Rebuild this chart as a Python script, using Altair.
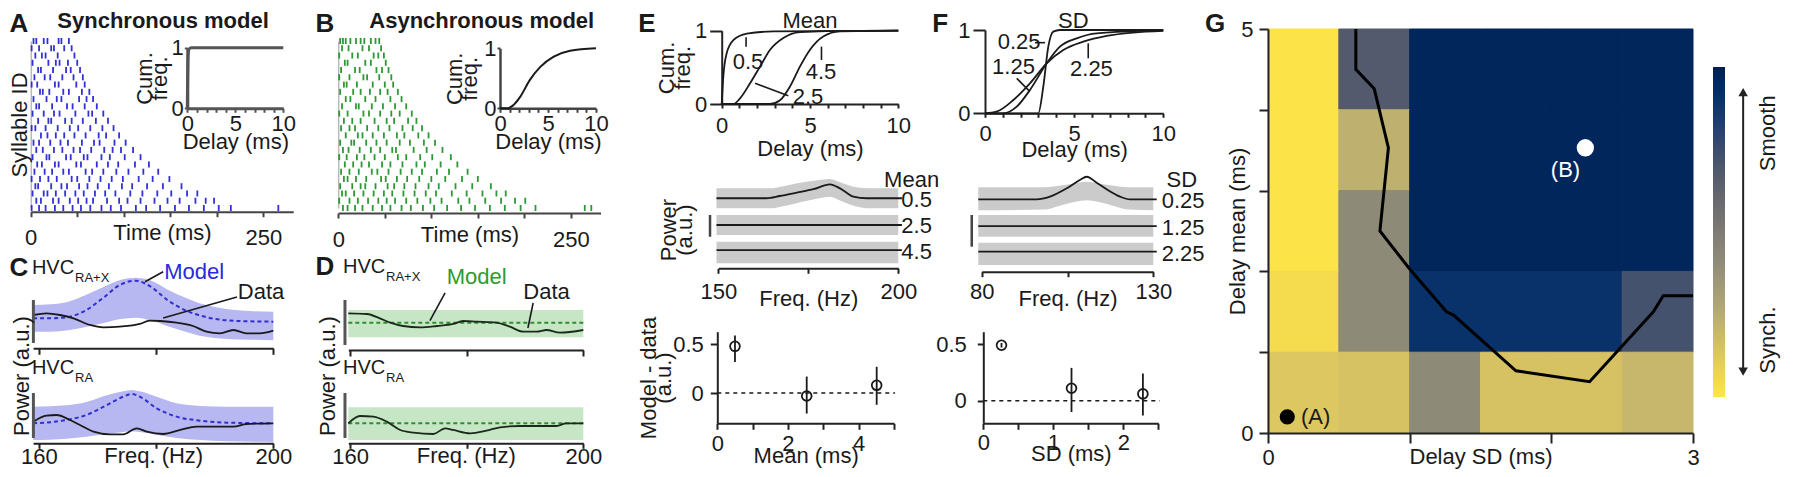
import altair as alt
import pandas as pd

FONT = "Liberation Sans"
W, H = 1784, 461
INK = "#1a1a1a"
BLUE = "#2626d6"
GREEN = "#22922a"

# ---------------- data ----------------
# Panel A / B rasters: spike times (ms) per syllable row (top row first)
SYNC_SPIKES = [
    [3, 6, 14, 18, 30, 33, 41],
    [1, 9, 22, 25, 36, 44],
    [5, 12, 16, 29, 47],
    [2, 19, 27, 31, 40, 50],
    [8, 11, 24, 38, 43, 53],
    [4, 15, 21, 34, 46, 56],
    [1, 7, 26, 30, 49, 58],
    [10, 13, 20, 35, 41, 55, 63],
    [3, 17, 28, 33, 52, 60, 67],
    [6, 9, 23, 39, 45, 58, 71],
    [2, 14, 25, 31, 48, 62, 66, 78],
    [8, 19, 22, 37, 44, 56, 70, 83],
    [1, 5, 16, 29, 42, 51, 64, 77, 89],
    [11, 18, 27, 36, 47, 59, 73, 81, 95],
    [3, 9, 21, 32, 40, 55, 68, 74, 90, 102],
    [6, 13, 25, 34, 46, 53, 65, 79, 88, 97, 110],
    [2, 17, 20, 38, 43, 57, 61, 76, 85, 101, 118],
    [7, 12, 26, 30, 49, 54, 71, 83, 94, 112, 127],
    [4, 15, 23, 35, 41, 59, 66, 78, 92, 105, 121, 137],
    [1, 10, 19, 28, 44, 50, 63, 75, 87, 99, 116, 131, 149],
    [5, 8, 22, 33, 39, 52, 61, 72, 84, 98, 109, 125, 142, 162],
    [2, 14, 18, 27, 37, 48, 57, 69, 80, 91, 107, 120, 136, 151, 168, 179],
    [6, 11, 24, 30, 42, 51, 60, 67, 82, 95, 104, 118, 133, 147, 160, 177, 188, 197],
    [1, 9, 16, 26, 35, 45, 54, 64, 76, 86, 97, 113, 124, 139, 155, 170, 186, 202, 215, 266],
]
ASYNC_SPIKES = [
    [2, 5, 8, 13, 19, 24, 28, 35, 40, 44],
    [4, 11, 26, 33, 46],
    [1, 15, 21, 38, 43, 49],
    [7, 10, 29, 35, 51],
    [3, 18, 23, 41, 47, 54],
    [1, 12, 27, 31, 44, 57],
    [6, 9, 20, 37, 50, 59],
    [2, 16, 24, 34, 45, 53, 64],
    [8, 13, 29, 40, 56, 68],
    [4, 19, 22, 36, 48, 61, 73],
    [1, 10, 27, 33, 45, 57, 66, 79],
    [6, 15, 24, 39, 52, 60, 75, 84],
    [3, 12, 18, 31, 43, 55, 69, 80, 90],
    [8, 21, 26, 37, 49, 63, 71, 86, 97],
    [2, 14, 17, 30, 41, 52, 66, 77, 92, 104],
    [5, 11, 23, 35, 45, 58, 62, 81, 95, 112],
    [1, 9, 20, 28, 39, 50, 64, 73, 88, 101, 121],
    [7, 16, 25, 33, 47, 56, 69, 84, 93, 110, 128],
    [3, 12, 22, 36, 42, 54, 67, 79, 90, 106, 119, 139],
    [6, 10, 19, 30, 46, 51, 63, 74, 87, 100, 115, 133, 150],
    [2, 15, 24, 29, 40, 53, 60, 71, 83, 97, 108, 126, 144, 164],
    [4, 8, 17, 27, 38, 49, 58, 70, 82, 94, 105, 122, 138, 155, 170, 180],
    [1, 12, 21, 32, 43, 52, 61, 73, 85, 99, 111, 129, 141, 158, 175, 190, 201],
    [5, 10, 18, 26, 37, 47, 56, 68, 78, 91, 103, 117, 132, 147, 163, 179, 196, 212, 265, 272],
]
SYNC_CDF_DELAY = [0, 0.03, 0.07, 0.12, 0.2, 0.4, 10]
SYNC_CDF_FRAC = [0, 0.45, 0.8, 0.93, 0.98, 1.0, 1.0]
ASYNC_CDF_DELAY = [0, 0.8, 1.3, 2.1, 3.1, 4.2, 5.6, 7.3, 10]
ASYNC_CDF_FRAC = [0, 0, 0.04, 0.19, 0.47, 0.69, 0.86, 0.96, 1.0]

# Panel C (synchronous model vs data)
C_FREQ_M = [159, 162, 165, 168, 171, 174, 176.5, 179, 182, 185, 188, 192, 196, 200]
C_TOP_MODEL = [0.45, 0.45, 0.47, 0.57, 0.76, 0.96, 1.015, 0.93, 0.72, 0.57, 0.48, 0.42, 0.405, 0.40]
C_TOP_HI = [0.65, 0.66, 0.70, 0.80, 0.92, 1.03, 1.06, 1.02, 0.88, 0.76, 0.66, 0.59, 0.56, 0.55]
C_TOP_LO = [0.25, 0.25, 0.27, 0.32, 0.38, 0.44, 0.46, 0.42, 0.33, 0.25, 0.18, 0.14, 0.13, 0.12]
C_TOP_FREQ_D = [159.03, 161.3, 163.6, 165.9, 168.7, 171.0, 173.8, 177.2, 178.9, 180.7, 183.5, 186.3,
                188.6, 190.9, 193.2, 195.4, 197.7, 200]
C_TOP_DATA = [0.5, 0.525, 0.5, 0.45, 0.35, 0.315, 0.325, 0.365, 0.415, 0.41, 0.385, 0.335,
              0.25, 0.225, 0.275, 0.225, 0.225, 0.265]
C_BOT_FREQ_M = [159, 164.7, 168.1, 171.6, 174.4, 175.8, 177.2, 180.1, 183.5, 187.5, 192, 200]
C_BOT_MODEL = [0.30, 0.35, 0.425, 0.575, 0.70, 0.74, 0.70, 0.525, 0.40, 0.34, 0.31, 0.30]
C_BOT_HI = [0.55, 0.57, 0.62, 0.72, 0.78, 0.80, 0.78, 0.70, 0.60, 0.56, 0.55, 0.55]
C_BOT_LO = [0.05, 0.07, 0.10, 0.14, 0.17, 0.18, 0.17, 0.13, 0.08, 0.05, 0.03, 0.02]
C_BOT_FREQ_D = [159.03, 161.3, 163.0, 165.3, 167.0, 169.3, 172.1, 174.4, 176.7, 178.4, 181.2, 184.1,
                186.9, 189.8, 193.2, 195.4, 200]
C_BOT_DATA = [0.325, 0.415, 0.425, 0.35, 0.275, 0.175, 0.135, 0.135, 0.225, 0.175, 0.14, 0.2,
              0.25, 0.25, 0.25, 0.29, 0.3]

# Panel D (asynchronous model vs data)
D_FREQ_M = [159.7, 200]
D_TOP_MODEL = [0.41, 0.41]
D_TOP_HI = [0.60, 0.60]
D_TOP_LO = [0.19, 0.19]
D_BOT_MODEL = [0.30, 0.30]
D_BOT_HI = [0.54, 0.54]
D_BOT_LO = [0.05, 0.05]
D_TOP_FREQ_D = [159.7, 162.9, 165.1, 166.9, 169.1, 172.0, 174.9, 177.7, 179.4, 181.7, 185.1, 187.4,
                189.7, 192.0, 193.7, 196.0, 200]
D_TOP_DATA = [0.55, 0.54, 0.475, 0.41, 0.36, 0.34, 0.36, 0.39, 0.435, 0.425, 0.41, 0.35,
              0.275, 0.275, 0.30, 0.26, 0.30]
D_BOT_FREQ_D = [159.7, 161.7, 164.0, 166.3, 168.6, 170.9, 174.3, 176.3, 177.7, 180.6, 183.4, 185.7,
                189.1, 192.6, 195.4, 197.1, 200]
D_BOT_DATA = [0.3, 0.41, 0.40, 0.325, 0.2, 0.16, 0.14, 0.225, 0.2, 0.15, 0.19, 0.24,
              0.26, 0.26, 0.26, 0.3, 0.3]

# Panel E: delay distributions with different means
E_CDF = {
    "0.5": ([0, 0.09, 0.28, 0.66, 1.42, 2.92, 10], [0, 0.37, 0.69, 0.87, 0.96, 0.99, 1.0]),
    "2.5": ([0, 0.66, 1.04, 1.6, 2.17, 2.74, 3.49, 4.43, 5.94, 10],
            [0, 0, 0.077, 0.28, 0.51, 0.74, 0.9, 0.98, 0.995, 1.0]),
    "4.5": ([0, 2.74, 3.3, 3.87, 4.43, 5.0, 5.75, 6.7, 10],
            [0, 0, 0.05, 0.24, 0.51, 0.74, 0.92, 0.99, 1.0]),
}
E_PW_FREQ = [149.5, 163.4, 167.1, 171.8, 176.4, 181.0, 183.8, 187.5, 191.2, 201]
E_PW_TOP = [7.67, 7.67, 7.92, 8.29, 8.66, 9.2, 8.76, 7.85, 7.67, 7.67]
E_BAND_FREQ = [149.5, 164, 168, 172, 176, 180, 181, 184, 188, 192, 200]
E_BAND_HI = [8.76, 8.76, 9.0, 9.31, 9.55, 9.75, 9.78, 9.4, 8.9, 8.76, 8.76]
E_BAND_LO = [6.57, 6.57, 6.8, 7.15, 7.5, 7.8, 7.85, 7.4, 6.8, 6.57, 6.57]
E_PW_MID = [4.74, 4.74]
E_PW_MID_BAND = [3.65, 5.84]
E_PW_LOW = [2.0, 2.0]
E_PW_LOW_BAND = [0.55, 2.91]
E_DIFF_MEAN = [0.5, 2.53, 4.51]
E_DIFF = [0.48, -0.03, 0.08]
E_DIFF_LO = [0.32, -0.21, -0.12]
E_DIFF_HI = [0.59, 0.17, 0.27]

# Panel F: delay distributions with different SDs
F_CDF = {
    "0.25": ([0, 2.99, 3.27, 3.55, 3.83, 4.2, 10], [0, 0, 0.32, 0.8, 0.98, 1.0, 1.0]),
    "1.25": ([0, 1.03, 1.78, 2.52, 3.46, 4.2, 5.14, 6.26, 10],
             [0, 0, 0.08, 0.28, 0.6, 0.8, 0.9, 0.96, 0.995]),
    "2.25": ([0, 0.65, 1.59, 2.52, 3.46, 4.39, 5.51, 6.82, 8.32, 10],
             [0, 0.02, 0.16, 0.36, 0.6, 0.76, 0.86, 0.93, 0.97, 0.99]),
}
F_PW_FREQ = [79.0, 96.0, 99.9, 104.8, 108.6, 110.6, 113.5, 116.4, 120.3, 123.2, 131]
F_PW_TOP = [7.55, 7.55, 7.85, 8.76, 9.67, 10.03, 9.38, 8.65, 7.85, 7.55, 7.55]
F_BAND_FREQ = [79, 98, 104, 110.6, 117, 123, 130]
F_BAND_HI = [8.87, 8.87, 9.12, 9.49, 9.12, 8.87, 8.87]
F_BAND_LO = [6.36, 6.43, 7.0, 7.45, 7.0, 6.43, 6.36]
F_PW_MID = [4.63, 4.63]
F_PW_MID_BAND = [3.46, 5.84]
F_PW_LOW = [1.82, 1.82]
F_PW_LOW_BAND = [0.36, 2.80]
F_DIFF_SD = [0.26, 1.26, 2.28]
F_DIFF = [0.49, 0.11, 0.06]
F_DIFF_LO = [0.47, -0.10, -0.13]
F_DIFF_HI = [0.51, 0.29, 0.24]

# Panel G: smoothness grid (rows: mean 4-5 down to 0-1; columns: SD 0-0.5 ... 2.5-3)
G_SD_EDGES = [0, 0.5, 1.0, 1.5, 2.0, 2.5, 3.0]
G_MEAN_EDGES = [5, 4, 3, 2, 1, 0]
G_SMOOTH = [
    [0.01, 0.67, 0.97, 0.97, 0.97, 0.97],
    [0.01, 0.23, 0.97, 0.97, 0.97, 0.97],
    [0.01, 0.42, 0.97, 0.97, 0.97, 0.97],
    [0.04, 0.42, 0.90, 0.90, 0.90, 0.72],
    [0.13, 0.15, 0.42, 0.15, 0.15, 0.20],
]
G_BOUND_SD = [0.62, 0.62, 0.75, 0.85, 0.79, 1.0, 1.26, 1.31, 1.75, 2.27, 2.72, 2.79, 3.0]
G_BOUND_MEAN = [5.0, 4.5, 4.26, 3.53, 2.5, 2.03, 1.5, 1.46, 0.77, 0.635, 1.5, 1.70, 1.70]
G_MODEL_A = (0.136, 0.2)
G_MODEL_B = (2.24, 3.53)


# ---------------- helpers ----------------
def sx(dom, a, b):
    return alt.Scale(domain=dom, range=[a - 8, b - 8], nice=False, zero=False)


def sy(dom, a, b):
    return alt.Scale(domain=dom, range=[a - 8, b - 8], nice=False, zero=False)


def _labels(kw, shown, lp):
    if shown:
        cond = " || ".join("datum.value == %s" % v for v in shown)
        kw["labelExpr"] = "(%s) ? ('' + datum.value) : ''" % cond
        kw["labelPadding"] = lp
    else:
        kw["labels"] = False


def bottom_axis(py, values, shown=(), title=None, t=5, lp=2, tp=0, **kw):
    _labels(kw, shown, lp)
    kw["title"] = title
    if title is not None:
        kw["titlePadding"] = tp
    return alt.Axis(orient="bottom", offset=py - 8 - H, values=list(values), tickSize=t, **kw)


def left_axis(px, values, shown=(), title=None, t=5, lp=2, tp=0, **kw):
    _labels(kw, shown, lp)
    kw["title"] = title
    if title is not None:
        kw["titlePadding"] = tp
    return alt.Axis(orient="left", offset=-(px - 8), values=list(values), tickSize=t, **kw)


class Panel:
    def __init__(self, xs, ys, xa=None, ya=None):
        self.xs, self.ys, self.xa, self.ya = xs, ys, xa, ya
        self.layers = []

    def X(self, f):
        return alt.X("%s:Q" % f, scale=self.xs, axis=self.xa)

    def Y(self, f):
        return alt.Y("%s:Q" % f, scale=self.ys, axis=self.ya)

    def line(self, xv, yv, color=INK, width=1.8, dash=None, interp="monotone"):
        df = pd.DataFrame({"x": list(xv), "y": list(yv), "i": list(range(len(xv)))})
        mk = dict(color=color, strokeWidth=width, interpolate=interp)
        if dash:
            mk["strokeDash"] = dash
        self.layers.append(alt.Chart(df).mark_line(**mk).encode(
            x=self.X("x"), y=self.Y("y"), order="i:Q"))

    def band(self, xv, lo, hi, color):
        df = pd.DataFrame({"x": list(xv), "lo": list(lo), "hi": list(hi)})
        self.layers.append(alt.Chart(df).mark_area(color=color, opacity=1, interpolate="monotone").encode(
            x=self.X("x"), y=self.Y("lo"), y2=alt.Y2("hi")))

    def segs(self, rows, color=INK, width=1.6, dash=None):
        df = pd.DataFrame(rows, columns=["x", "y", "x2", "y2"])
        mk = dict(color=color, strokeWidth=width)
        if dash:
            mk["strokeDash"] = dash
        self.layers.append(alt.Chart(df).mark_rule(**mk).encode(
            x=self.X("x"), y=self.Y("y"), x2=alt.X2("x2"), y2=alt.Y2("y2")))

    def text(self, rows, size=22, color=INK, weight="normal", align="center", angle=0, lh=None):
        df = pd.DataFrame(rows, columns=["x", "y", "t"])
        mk = dict(font=FONT, fontSize=size, color=color, fontWeight=weight, align=align, baseline="middle")
        if angle:
            mk["angle"] = angle
        if lh:
            mk["lineHeight"] = lh
            mk["lineBreak"] = "\n"
        self.layers.append(alt.Chart(df).mark_text(**mk).encode(
            x=self.X("x"), y=self.Y("y"), text="t:N"))

    def errpoints(self, xv, yv, lo, hi):
        df = pd.DataFrame({"x": xv, "y": yv, "lo": lo, "hi": hi})
        self.layers.append(alt.Chart(df).mark_rule(color=INK, strokeWidth=1.8).encode(
            x=self.X("x"), y=self.Y("lo"), y2=alt.Y2("hi")))
        self.layers.append(alt.Chart(df).mark_point(shape="circle", filled=False, size=95,
                                                    strokeWidth=1.8, color=INK, opacity=1).encode(
            x=self.X("x"), y=self.Y("y")))

    def raster(self, spikes, color):
        df = pd.DataFrame([(t, r) for r, ts in enumerate(spikes) for t in ts], columns=["x", "y"])
        self.layers.append(alt.Chart(df).mark_tick(orient="vertical", size=6, thickness=1.8,
                                                   color=color, opacity=0.95).encode(
            x=self.X("x"), y=self.Y("y")))

    def chart(self):
        return alt.layer(*self.layers)


panels = []

# ---------------- Panel A ----------------
pa = Panel(sx([0, 282], 30.7, 293.2), sy([0, 23], 41, 208),
           xa=bottom_axis(211.7, [0, 50, 100, 150, 200, 250], shown=(0, 250), title="Time (ms)",
                          t=5, lp=11, tp=-26, domainColor="#444", tickColor="#444"),
           ya=alt.Axis(orient="left", offset=-(30.7 - 8), ticks=False, labels=False,
                       domainColor="#9a9a9a", domainWidth=1, title="Syllable ID", titlePadding=-0.5))
pa.raster(SYNC_SPIKES, BLUE)
pa.text([(-12.6, -2.34, "A")], size=26, weight="bold")
pa.text([(142.2, -2.75, "Synchronous model")], size=22, weight="bold")
panels.append(pa)

ia = Panel(sx([0, 10], 187.3, 283.3), sy([0, 1], 108.3, 47.7),
           xa=bottom_axis(108.3, range(11), shown=(0, 5, 10), title="Delay (ms)", t=4, lp=1, tp=-3,
                          domainColor="#555", tickColor="#555", domainWidth=3),
           ya=left_axis(187.3, [0, 1], shown=(0, 1), title=["Cum.", "freq."], t=3, lp=1, tp=0,
                        titleLineHeight=15, domainColor="#555", tickColor="#555", domainWidth=3))
ia.line(SYNC_CDF_DELAY, SYNC_CDF_FRAC, color="#555", width=3)
panels.append(ia)

# ---------------- Panel B ----------------
pb = Panel(sx([0, 282], 338.3, 600.6), sy([0, 23], 41, 208),
           xa=bottom_axis(213, [0, 50, 100, 150, 200, 250], shown=(0, 250), title="Time (ms)",
                          t=5, lp=11, tp=-26, domainColor="#444", tickColor="#444"),
           ya=alt.Axis(orient="left", offset=-(338.3 - 8), ticks=False, labels=False,
                       domainColor="#9a9a9a", domainWidth=1, title=None))
pb.raster(ASYNC_SPIKES, GREEN)
pb.text([(-14.3, -2.34, "B")], size=26, weight="bold")
pb.text([(154.2, -2.75, "Asynchronous model")], size=22, weight="bold")
panels.append(pb)

ib = Panel(sx([0, 10], 500, 596), sy([0, 1], 108.3, 48.3),
           xa=bottom_axis(108.3, range(11), shown=(0, 5, 10), title="Delay (ms)", t=4, lp=1, tp=-3,
                          domainColor="#444", tickColor="#444", domainWidth=2.5),
           ya=left_axis(500, [0, 1], shown=(0, 1), title=["Cum.", "freq."], t=3, lp=1, tp=2,
                        titleLineHeight=15, domainColor="#444", tickColor="#444", domainWidth=2.5))
ib.line(ASYNC_CDF_DELAY, ASYNC_CDF_FRAC, color=INK, width=2)
panels.append(ib)

# ---------------- Panel C ----------------
BLUE_BAND = "#b7b7f1"
ct = Panel(sx([159, 200], 33.1, 273.3), sy([0, 1], 348.3, 281.7),
           xa=bottom_axis(348.3, [160, 180, 200], t=6))
ct.band(C_FREQ_M, C_TOP_LO, C_TOP_HI, BLUE_BAND)
ct.line(C_FREQ_M, C_TOP_MODEL, color="#3030d0", width=2, dash=[4, 3])
ct.line(C_TOP_FREQ_D, C_TOP_DATA, color=INK, width=1.8)
ct.segs([(159.05, 0.08, 159.05, 0.725)], color="#555", width=3)
ct.segs([(178.1, 1.0, 181.2, 1.15), (181.2, 0.455, 193.8, 0.77)], width=1.6)
ct.text([(156.59, 1.206, "C")], size=26, weight="bold")
ct.text([(158.8, 1.206, "HVC")], size=20, align="left")
ct.text([(166.15, 1.056, "RA+X")], size=13, align="left")
ct.text([(186.5, 1.146, "Model")], size=22, color="#2a2ad8")
ct.text([(197.9, 0.845, "Data")], size=22)
panels.append(ct)

cb = Panel(sx([159, 200], 33.1, 273.3), sy([0, 1], 443.3, 376.7),
           xa=bottom_axis(443.3, [160, 180, 200], shown=(160, 200), title="Freq. (Hz)",
                          t=5, lp=-1.5, tp=-22))
cb.band(C_BOT_FREQ_M, C_BOT_LO, C_BOT_HI, BLUE_BAND)
cb.line(C_BOT_FREQ_M, C_BOT_MODEL, color="#3030d0", width=2, dash=[4, 3])
cb.line(C_BOT_FREQ_D, C_BOT_DATA, color=INK, width=1.8)
cb.segs([(159.05, 0.08, 159.05, 0.755)], color="#555", width=3)
cb.text([(158.8, 1.13, "HVC")], size=20, align="left")
cb.text([(166.15, 0.98, "RA")], size=13, align="left")
cb.text([(157.1, 1.01, "Power (a.u.)")], size=22, angle=270)
panels.append(cb)

# ---------------- Panel D ----------------
GREEN_BAND = "#c6e6c6"
dt = Panel(sx([159.7, 200], 348.3, 583.3), sy([0, 1], 350, 283.3),
           xa=bottom_axis(350, [160, 180, 200], t=6))
dt.band(D_FREQ_M, D_TOP_LO, D_TOP_HI, GREEN_BAND)
dt.line(D_FREQ_M, D_TOP_MODEL, color="#2e8f2e", width=2, dash=[4, 3], interp="linear")
dt.line(D_TOP_FREQ_D, D_TOP_DATA, color="#1a2a1a", width=1.8)
dt.segs([(159.13, 0.075, 159.13, 0.75)], color="#555", width=3)
dt.segs([(173.7, 0.44, 176.3, 0.855), (190.5, 0.33, 191.4, 0.705)], width=1.6)
dt.text([(155.7, 1.244, "D")], size=26, weight="bold")
dt.text([(158.79, 1.244, "HVC")], size=20, align="left")
dt.text([(166.17, 1.094, "RA+X")], size=13, align="left")
dt.text([(181.7, 1.094, "Model")], size=22, color="#2e9a2e")
dt.text([(193.7, 0.87, "Data")], size=22)
panels.append(dt)

db = Panel(sx([159.7, 200], 348.3, 583.3), sy([0, 1], 443.3, 376.7),
           xa=bottom_axis(443.3, [160, 180, 200], shown=(160, 200), title="Freq. (Hz)",
                          t=5, lp=-1.5, tp=-22))
db.band(D_FREQ_M, D_BOT_LO, D_BOT_HI, GREEN_BAND)
db.line(D_FREQ_M, D_BOT_MODEL, color="#2e8f2e", width=2, dash=[4, 3], interp="linear")
db.line(D_BOT_FREQ_D, D_BOT_DATA, color="#1a2a1a", width=1.8)
db.segs([(159.13, 0.08, 159.13, 0.755)], color="#555", width=3)
db.text([(158.79, 1.13, "HVC")], size=20, align="left")
db.text([(166.17, 0.98, "RA")], size=13, align="left")
db.text([(156.2, 1.01, "Power (a.u.)")], size=22, angle=270)
panels.append(db)

# ---------------- Panel E ----------------
GRAY_BAND = "#cbcbcb"
ec = Panel(sx([0, 10], 721.7, 898.3), sy([0, 1], 104, 30.7),
           xa=bottom_axis(104, range(11), shown=(0, 5, 10), title="Delay (ms)", t=4, lp=7.5, tp=2),
           ya=left_axis(721.7, [0, 1], shown=(0, 1), title=["Cum.", "freq."], t=12, lp=3, tp=0,
                        titleLineHeight=16))
for k, (dx, fy) in E_CDF.items():
    ec.line(dx, fy)
ec.segs([(1.38, 0.91, 1.38, 0.78), (5.65, 0.782, 5.65, 0.6), (1.886, 0.282, 3.77, 0.113)], width=1.6)
ec.text([(1.49, 0.577, "0.5"), (5.62, 0.44, "4.5"), (4.89, 0.1, "2.5")], size=22)
ec.text([(5.0, 1.132, "Mean")], size=22)
ec.text([(-4.23, 1.091, "E")], size=26, weight="bold")
panels.append(ec)

em = Panel(sx([150, 200], 718.3, 898.3), sy([0, 10], 268.3, 177),
           xa=bottom_axis(268.3, [150, 175, 200], shown=(150, 200), title="Freq. (Hz)",
                          t=5, lp=7.7, tp=-14))
em.band(E_BAND_FREQ, E_BAND_LO, E_BAND_HI, GRAY_BAND)
em.band([149.5, 200], [E_PW_MID_BAND[0]] * 2, [E_PW_MID_BAND[1]] * 2, GRAY_BAND)
em.band([149.5, 200], [E_PW_LOW_BAND[0]] * 2, [E_PW_LOW_BAND[1]] * 2, GRAY_BAND)
em.line(E_PW_FREQ, E_PW_TOP)
em.line([149.5, 201], E_PW_MID, interp="linear")
em.line([149.5, 201], E_PW_LOW, interp="linear")
em.segs([(147.7, 3.46, 147.7, 5.84)], color="#444", width=2.5)
em.text([(203.7, 9.67, "Mean"), (205.1, 7.45, "0.5"), (205.1, 4.6, "2.5"), (205.1, 1.75, "4.5")], size=22)
em.text([(136.3, 4.19, "Power\n(a.u.)")], size=22, angle=270, lh=16)
panels.append(em)

eb = Panel(sx([0, 5], 717.3, 894), sy([-0.31, 0.63], 423.3, 331.7),
           xa=bottom_axis(423.3, range(6), shown=(0, 2, 4), title="Mean (ms)", t=6, lp=4, tp=-8.5),
           ya=left_axis(717.3, [0, 0.5], shown=(0, 0.5), title=["Model - data", "(a.u.)"],
                        t=7, lp=7, tp=-3, titleLineHeight=15))
eb.segs([(0, 0, 5.03, 0)], width=1.5, dash=[4, 4])
eb.errpoints(E_DIFF_MEAN, E_DIFF, E_DIFF_LO, E_DIFF_HI)
panels.append(eb)

# ---------------- Panel F ----------------
fc = Panel(sx([0, 10], 985, 1163.3), sy([0, 1], 113.3, 30),
           xa=bottom_axis(113.3, range(11), shown=(0, 5, 10), title="Delay (ms)", t=4, lp=6.5, tp=-5),
           ya=left_axis(985, [0, 1], shown=(0, 1), t=12, lp=3))
for k, (dx, fy) in F_CDF.items():
    fc.line(dx, fy)
fc.segs([(2.8, 0.848, 3.37, 0.848), (1.78, 0.42, 2.52, 0.26), (5.79, 0.84, 5.79, 0.66)], width=1.6)
fc.text([(1.91, 0.85, "0.25"), (1.6, 0.55, "1.25"), (5.97, 0.526, "2.25")], size=22)
fc.text([(4.95, 1.108, "SD")], size=22)
fc.text([(-2.52, 1.072, "F")], size=26, weight="bold")
panels.append(fc)

fm = Panel(sx([80, 130], 981.7, 1153.3), sy([0, 10], 268.3, 177),
           xa=bottom_axis(271.7, [80, 105, 130], shown=(80, 130), title="Freq. (Hz)",
                          t=5, lp=4.3, tp=-14))
fm.band(F_BAND_FREQ, F_BAND_LO, F_BAND_HI, GRAY_BAND)
fm.band([79, 130], [F_PW_MID_BAND[0]] * 2, [F_PW_MID_BAND[1]] * 2, GRAY_BAND)
fm.band([79, 130], [F_PW_LOW_BAND[0]] * 2, [F_PW_LOW_BAND[1]] * 2, GRAY_BAND)
fm.line(F_PW_FREQ, F_PW_TOP)
fm.line([79, 131], F_PW_MID, interp="linear")
fm.line([79, 131], F_PW_LOW, interp="linear")
fm.segs([(77.1, 2.37, 77.1, 5.84)], color="#444", width=2.5)
fm.text([(138.3, 9.67, "SD"), (138.7, 7.35, "0.25"), (138.7, 4.45, "1.25"), (138.7, 1.55, "2.25")], size=22)
panels.append(fm)

fb = Panel(sx([0, 2.5], 983.3, 1158.3), sy([-0.2, 0.61], 423.3, 331.7),
           xa=bottom_axis(423.3, [0, 0.5, 1, 1.5, 2, 2.5], shown=(0, 1, 2), title="SD (ms)",
                          t=6, lp=3, tp=-9.5),
           ya=left_axis(983.3, [0, 0.5], shown=(0, 0.5), t=6, lp=11))
fb.segs([(0, 0, 2.52, 0)], width=1.5, dash=[4, 4])
fb.errpoints(F_DIFF_SD, F_DIFF, F_DIFF_LO, F_DIFF_HI)
panels.append(fb)

# ---------------- Panel G ----------------
g = Panel(sx([0, 3], 1268, 1693), sy([0, 5], 433, 29),
          xa=bottom_axis(433, [0, 1, 2, 3], shown=(0, 3), title="Delay SD (ms)", t=10, lp=4, tp=-22,
                         zindex=1),
          ya=left_axis(1268, range(6), shown=(0, 5), title="Delay mean (ms)", t=9, lp=6, tp=-9,
                       zindex=1))
cells = []
for ri, row in enumerate(G_SMOOTH):
    for ci, v in enumerate(row):
        cells.append(dict(x=G_SD_EDGES[ci], x1=G_SD_EDGES[ci + 1],
                          y=G_MEAN_EDGES[ri + 1], y1=G_MEAN_EDGES[ri], v=v))
CIV = alt.Scale(scheme="cividis", reverse=True, domain=[0, 1])
g.layers.append(alt.Chart(pd.DataFrame(cells)).mark_rect(strokeWidth=1).encode(
    x=g.X("x"), x2=alt.X2("x1"), y=g.Y("y"), y2=alt.Y2("y1"),
    color=alt.Color("v:Q", title=None, scale=CIV,
                    legend=alt.Legend(orient="none", legendX=1713 - 8, legendY=67 - 8,
                                      direction="vertical", gradientLength=330,
                                      gradientThickness=12, gradientStrokeWidth=0,
                                      labelOpacity=0, padding=0)),
    stroke=alt.Stroke("v:Q", scale=CIV, legend=None)))
g.line(G_BOUND_SD, G_BOUND_MEAN, color="#000", width=3, interp="linear")
dots = pd.DataFrame({"x": [G_MODEL_A[0]], "y": [G_MODEL_A[1]]})
g.layers.append(alt.Chart(dots).mark_circle(size=230, color="#000", opacity=1).encode(
    x=g.X("x"), y=g.Y("y")))
dotsb = pd.DataFrame({"x": [G_MODEL_B[0]], "y": [G_MODEL_B[1]]})
g.layers.append(alt.Chart(dotsb).mark_circle(size=300, color="#fff", opacity=1).encode(
    x=g.X("x"), y=g.Y("y")))
g.text([(0.233, 0.2, "(A)")], size=22, align="left")
g.text([(2.10, 3.25, "(B)")], size=22, color="#ffffff")
g.text([(-0.374, 5.062, "G")], size=26, weight="bold")
g.segs([(3.354, 0.78, 3.354, 4.2)], color="#222", width=2)
tri = pd.DataFrame({"x": [3.354, 3.354], "y": [4.22, 0.76], "s": ["triangle-up", "triangle-down"]})
g.layers.append(alt.Chart(tri).mark_point(filled=True, size=90, color="#222", opacity=1).encode(
    x=g.X("x"), y=g.Y("y"),
    shape=alt.Shape("s:N", scale=alt.Scale(domain=["triangle-up", "triangle-down"],
                                           range=["triangle-up", "triangle-down"]), legend=None)))
g.text([(3.53, 3.71, "Smooth"), (3.53, 1.15, "Synch.")], size=22, angle=270)
panels.append(g)

chart = alt.layer(*[p.chart() for p in panels]).resolve_scale(
    x="independent", y="independent", color="independent", shape="independent"
).properties(
    width=W, height=H, padding=0, autosize=alt.AutoSizeParams(type="none")
).configure(font=FONT).configure_view(strokeWidth=0).configure_axis(
    labelFont=FONT, titleFont=FONT, labelFontSize=22, titleFontSize=22, titleFontWeight="normal",
    labelColor=INK, titleColor=INK, domainColor="#222", tickColor="#222", domainWidth=2, tickWidth=2,
    grid=False, labelFlush=False, labelOverlap=False
)

chart.save("out.html", embed_options={"renderer": "svg", "actions": False})
